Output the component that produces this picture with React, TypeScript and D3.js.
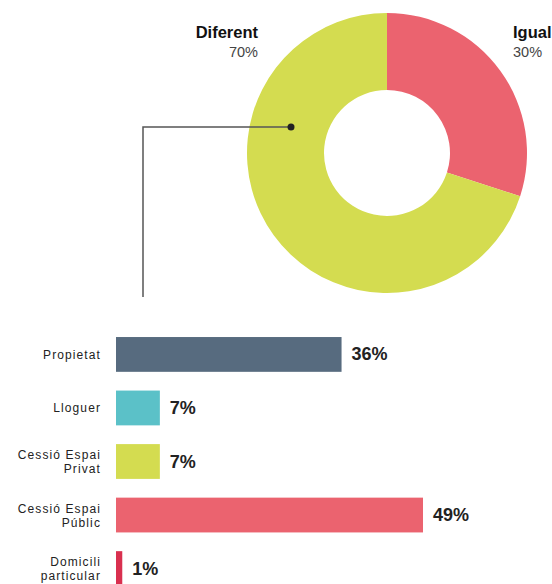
import { useRef, useEffect } from "react";
import * as d3 from "d3";

const pieNames = ["Igual", "Diferent"];
const pieValues = [30, 70];
const pieColors = ["#eb636f", "#d4dc50"];

const barNames = [["Propietat"], ["Lloguer"], ["Cessió Espai", "Privat"], ["Cessió Espai", "Públic"], ["Domicili", "particular"]];
const barValues = [36, 7, 7, 49, 1];
const barColors = ["#576b7f", "#5bc1c8", "#d4dc50", "#eb636f", "#d9304f"];

const FONT = "'Liberation Sans', Arial, Helvetica, sans-serif";

export default function App() {
  const ref = useRef<SVGSVGElement>(null);
  useEffect(() => {
    if (!ref.current) return;
    const svg = d3.select(ref.current);
    svg.selectAll("*").remove();

    // donut
    const cx = 387, cy = 153;
    const pie = d3.pie<number>().sort(null).value(d => d);
    const arc = d3.arc<d3.PieArcDatum<number>>().innerRadius(63).outerRadius(140);
    const dg = svg.append("g").attr("transform", `translate(${cx},${cy})`);
    dg.selectAll("path").data(pie(pieValues)).join("path")
      .attr("d", arc).attr("fill", (_, i) => pieColors[i]);

    // labels
    const lab = [
      { x: 258, anchor: "end", i: 1 },
      { x: 513, anchor: "start", i: 0 },
    ];
    lab.forEach(l => {
      svg.append("text").attr("x", l.x).attr("y", 38).attr("text-anchor", l.anchor)
        .attr("font-family", FONT).attr("font-size", 16.5).attr("font-weight", 700).attr("fill", "#111")
        .text(pieNames[l.i]);
      svg.append("text").attr("x", l.x).attr("y", 57).attr("text-anchor", l.anchor)
        .attr("font-family", FONT).attr("font-size", 14.5).attr("fill", "#444")
        .text(`${pieValues[l.i]}%`);
    });

    // connector
    svg.append("path").attr("d", "M143,297 V127 H291").attr("fill", "none")
      .attr("stroke", "#555").attr("stroke-width", 1.5);
    svg.append("circle").attr("cx", 291).attr("cy", 127).attr("r", 3.5).attr("fill", "#222");

    // bars
    const x = d3.scaleLinear().domain([0, 49]).range([116, 423]);
    const y = d3.scaleBand<number>().domain(d3.range(barValues.length)).range([328, 593]).paddingInner(0.35).paddingOuter(0.15);
    const g = svg.append("g");
    g.selectAll("rect").data(barValues).join("rect")
      .attr("x", x(0)).attr("y", (_, i) => y(i)! + 1).attr("width", d => x(d) - x(0))
      .attr("height", y.bandwidth()).attr("fill", (_, i) => barColors[i]);
    g.selectAll(".val").data(barValues).join("text")
      .attr("x", d => x(d) + 10).attr("y", (_, i) => y(i)! + y.bandwidth() / 2 + 7)
      .attr("font-family", FONT).attr("font-size", 18).attr("font-weight", 700).attr("fill", "#222")
      .text(d => `${d}%`);
    barNames.forEach((lines, i) => {
      const mid = y(i)! + y.bandwidth() / 2 + 1;
      const t = g.append("text").attr("text-anchor", "end").attr("font-family", FONT)
        .attr("font-size", 12).attr("letter-spacing", 1.1).attr("fill", "#222");
      lines.forEach((s, k) => {
        t.append("tspan").attr("x", 101)
          .attr("y", mid + 4.5 + (k - (lines.length - 1) / 2) * 14).text(s);
      });
    });
  }, []);

  return (
    <svg ref={ref} width={552} height={584}
      style={{ position: "absolute", left: 0, top: 0, background: "#fff" }} />
  );
}
